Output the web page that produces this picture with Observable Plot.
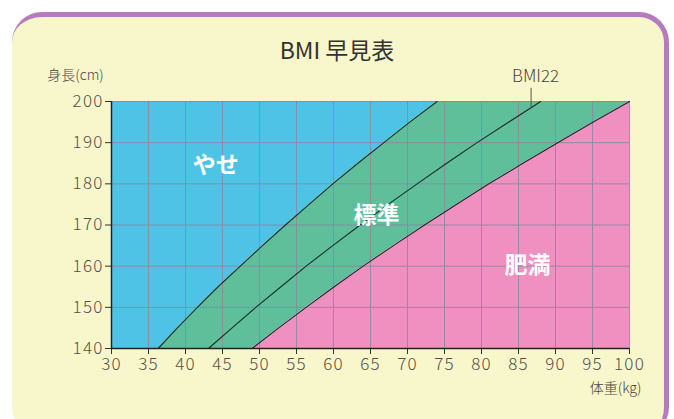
<!DOCTYPE html>
<html><head><meta charset="utf-8">
<script src="https://cdn.jsdelivr.net/npm/d3@7"></script>
<script src="https://cdn.jsdelivr.net/npm/@observablehq/plot@0.6"></script>
<style>
html,body{margin:0;padding:0;background:#fff;}
#wrap{position:relative;width:674px;height:419px;overflow:hidden;font-family:"Noto Sans CJK JP","Noto Sans",sans-serif;}
#panel{position:absolute;left:12px;top:12px;width:652px;height:420px;background:#f8f6cb;border-top:5px solid #b67bbd;border-right:5px solid #b67bbd;border-radius:30px;}
#chart{position:absolute;left:0;top:0;}
#title{position:absolute;left:0;width:674px;top:32px;text-align:center;font-size:23px;color:#333;font-weight:400;}
#chart g[aria-label="x-axis tick label"] text, #chart g[aria-label="y-axis tick label"] text{letter-spacing:1.2px;font-weight:300;}
</style></head><body>
<div id="wrap"><div id="panel"></div><div id="title">BMI 早見表</div><div id="chart"></div></div>
<script>
// heights (cm) and boundary weights (kg)
const heights = [140,145,150,155,160,165,170,175,180,185,190,195,200];
const w185 = [36.3,38.9,41.6,44.4,47.4,50.4,53.5,56.7,59.9,63.3,66.8,70.3,74.0];
const w22  = [43.1,46.3,49.5,52.9,56.3,59.9,63.6,67.4,71.3,75.3,79.4,83.7,88.0];
const w25  = [49.0,52.6,56.3,60.1,64.0,68.1,72.3,76.6,81.0,85.6,90.3,95.1,100.0];
const xTicks = [30,35,40,45,50,55,60,65,70,75,80,85,90,95,100];
const yTicks = [140,150,160,170,180,190,200];
const regionNames = ["やせ","標準","肥満"];
const regionAt = [[44.1,184.5],[65.8,172.3],[86.2,160.2]];

const rows = heights.map((h,i)=>({h, a:w185[i], b:w22[i], c:w25[i]}));
const labels = regionNames.map((n,i)=>({n, x:regionAt[i][0], y:regionAt[i][1]}));
const font = '"Noto Sans CJK JP","Noto Sans",sans-serif';

const plot = Plot.plot({
  width:674, height:419,
  marginLeft:111, marginRight:45, marginTop:101, marginBottom:71,
  style:{background:"transparent", fontFamily:font, overflow:"visible"},
  x:{domain:[30,100], ticks:xTicks, tickSize:6, tickPadding:3},
  y:{domain:[140,200], ticks:yTicks, tickSize:6, tickPadding:2},
  marks:[
    Plot.areaX(rows,{y:"h", x1:30, x2:"a", fill:"#4fc3e6"}),
    Plot.areaX(rows,{y:"h", x1:"a", x2:"c", fill:"#5fbf9b"}),
    Plot.areaX(rows,{y:"h", x1:"c", x2:100, fill:"#ef90c0"}),
    Plot.gridX(xTicks,{stroke:"#8a87a0", strokeOpacity:0.85, strokeWidth:1}),
    Plot.gridY(yTicks,{stroke:"#8a87a0", strokeOpacity:0.85, strokeWidth:1}),
    Plot.line(rows,{x:"a", y:"h", stroke:"#1a2a2a", strokeWidth:1.1}),
    Plot.line(rows,{x:"b", y:"h", stroke:"#1a2a2a", strokeWidth:1.1}),
    Plot.line(rows,{x:"c", y:"h", stroke:"#1a2a2a", strokeWidth:1.1}),
    Plot.axisX({ticks:xTicks, tickSize:6, tickPadding:3, fontSize:17, fill:"#574f4a", stroke:"#333", label:null}),
    Plot.axisY({ticks:yTicks, tickSize:6, tickPadding:2, fontSize:17, fill:"#574f4a", stroke:"#333", label:null}),
    Plot.ruleY([140],{stroke:"#222", strokeWidth:1.5}),
    Plot.ruleX([30],{stroke:"#222", strokeWidth:1.5}),
    Plot.text(labels,{x:"x", y:"y", text:"n", fill:"white", fontSize:23, fontWeight:"bold"}),
    Plot.ruleX([86.7],{y1:198.2, y2:203.2, stroke:"#555", strokeWidth:1}),
    Plot.text(["BMI22"],{x:87.3, y:206.1, fontSize:17, fill:"#4a4440", fontWeight:300}),
    Plot.text(["身長(cm)"],{x:30, y:206.3, dx:-36, fontSize:14, fill:"#4a4440", fontWeight:300}),
    Plot.text(["体重(kg)"],{x:100, y:140, dx:-14, dy:40, fontSize:14, fill:"#4a4440", fontWeight:300})
  ]
});
document.getElementById("chart").appendChild(plot);
</script>
</body></html>
